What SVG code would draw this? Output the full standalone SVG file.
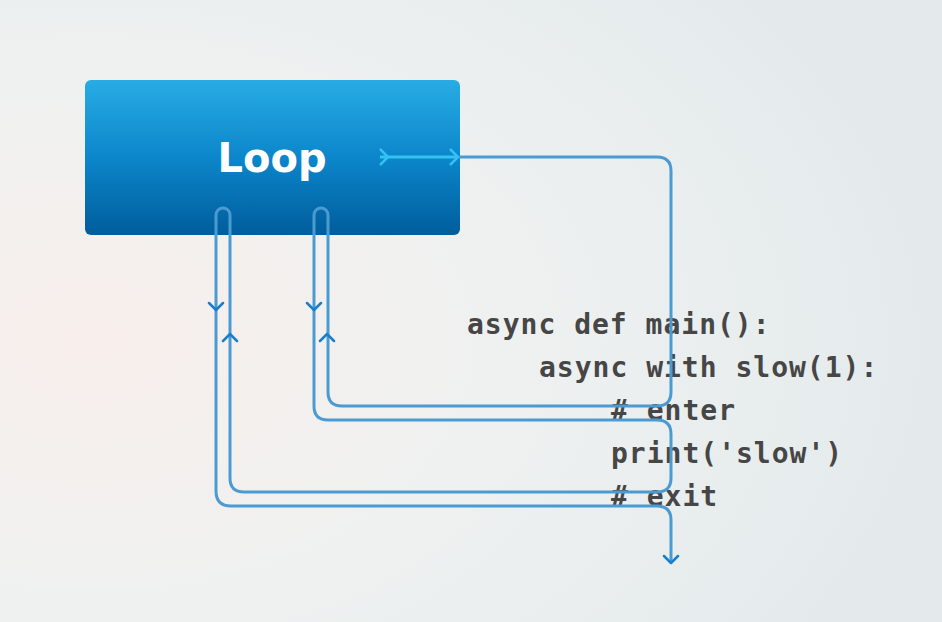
<svg xmlns="http://www.w3.org/2000/svg" width="942" height="622" viewBox="0 0 942 622">
<defs>
<radialGradient id="bg" cx="0.1" cy="0.55" r="0.9"><stop offset="0" stop-color="#f8efec"/><stop offset="0.5" stop-color="#eef1f0"/><stop offset="1" stop-color="#e4eaec"/></radialGradient>
<linearGradient id="box" x1="0" y1="0" x2="0" y2="1"><stop offset="0" stop-color="#28ace4"/><stop offset="0.5" stop-color="#0c86cb"/><stop offset="1" stop-color="#005d9c"/></linearGradient>
</defs>
<style>
.ln{fill:none;stroke:#4b9bd2;stroke-width:3;stroke-linejoin:round;stroke-linecap:round}
.ch{fill:none;stroke:#1a7ec8;stroke-width:2.5;stroke-linecap:round;stroke-linejoin:round}
.code{font-family:"DejaVu Sans Mono",monospace;font-weight:bold;font-size:28px;letter-spacing:1px;fill:#464646}
</style>
<rect width="942" height="622" fill="url(#bg)"/>
<g id="loop">
<rect x="85" y="80" width="375" height="155" rx="6" fill="url(#box)"/>
<text x="272" y="172" text-anchor="middle" font-family="DejaVu Sans, sans-serif" font-weight="bold" font-size="40" fill="#fff">Loop</text>
</g>
<g id="code" class="code">
<text x="467" y="334">async def main():</text>
<text x="539" y="377">async with slow(1):</text>
<text x="611" y="420"># enter</text>
<text x="611" y="463">print('slow')</text>
<text x="611" y="506"># exit</text>
</g>
<g id="connectors">
<path d="M380 157 H458" fill="none" stroke="#33c2f2" stroke-width="3"/>
<path d="M380 149 L388 157 L380 165 M450 149 L458 157 L450 165" fill="none" stroke="#33c2f2" stroke-width="2.5"/>
<path class="ln" d="M460 157 H657 Q671 157 671 171 V392 Q671 406 657 406 H342 Q328 406 328 392 V215 A7 7 0 0 0 314 215 V406 Q314 420 328 420 H657 Q671 420 671 434 V478 Q671 492 657 492 H244 Q230 492 230 478 V215 A7 7 0 0 0 216 215 V491 Q216 506 231 506 H657 Q671 506 671 520 V562"/>
<path class="ch" d="M209 303 L216 310 L223 303 M223 341 L230 334 L237 341 M307 303 L314 310 L321 303 M320 341 L327 334 L334 341 M664 556 L671 563 L678 556"/>
</g>
</svg>
